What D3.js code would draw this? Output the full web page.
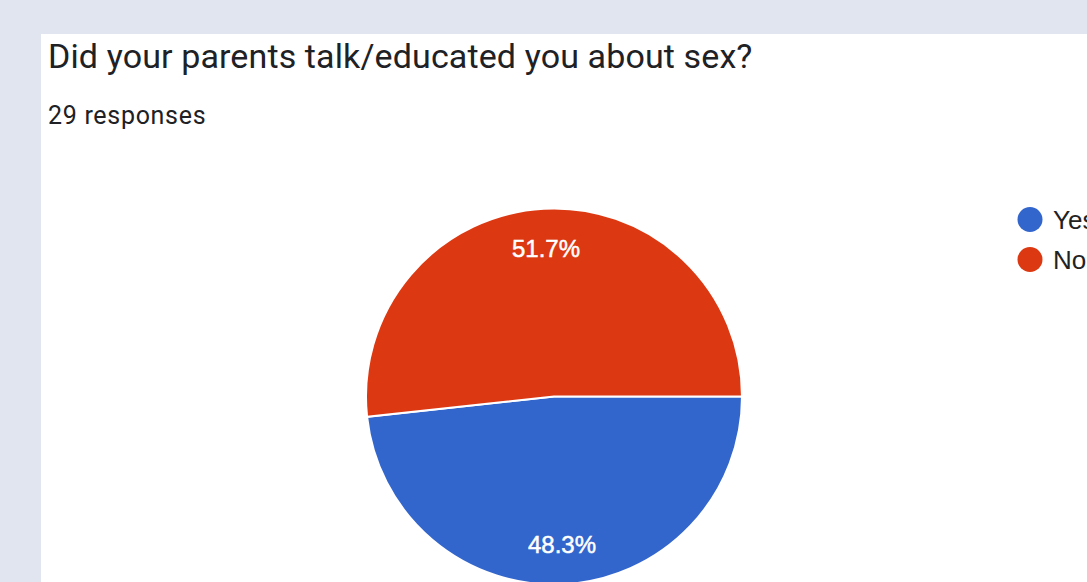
<!DOCTYPE html>
<html><head><meta charset="utf-8">
<script src="https://cdn.jsdelivr.net/npm/d3@7"></script>
<style>
html,body{margin:0;padding:0;background:#e1e5ef;overflow:hidden;}
svg{display:block;}
</style></head>
<body>
<svg id="chart" width="1087" height="582"></svg>
<script>
const categories = ["Yes", "No"];
const counts = [14, 15];
const percentLabels = ["48.3%", "51.7%"];
const colors = ["#3366cc", "#dc3912"];
const title = "Did your parents talk/educated you about sex?";
const subtitle = "29 responses";

const svg = d3.select("#chart");
svg.append("rect").attr("x",41).attr("y",34).attr("width",1100).attr("height",600).attr("fill","#ffffff");

svg.append("text").attr("x",48).attr("y",68)
  .attr("font-family","Roboto, 'Noto Sans', sans-serif").attr("font-size",34)
  .attr("letter-spacing","0.12")
  .attr("fill","#202124").text(title);
svg.append("text").attr("x",48).attr("y",124)
  .attr("font-family","Roboto, 'Noto Sans', sans-serif").attr("font-size",25)
  .attr("letter-spacing","0.7").attr("fill","#202124").text(subtitle);

const cx = 554, cy = 396.5, r = 188;
const data = categories.map((c,i)=>({cat:c, value:counts[i], label:percentLabels[i], color:colors[i]}));
const pie = d3.pie().value(d=>d.value).sort(null).startAngle(Math.PI/2).endAngle(Math.PI/2 + 2*Math.PI);
const arcs = pie(data);
const arc = d3.arc().innerRadius(0).outerRadius(r);
const labelArc = d3.arc().innerRadius(148).outerRadius(148);
const g = svg.append("g").attr("transform",`translate(${cx},${cy})`);
g.selectAll("path").data(arcs).join("path")
  .attr("d",arc).attr("fill",d=>d.data.color)
  .attr("stroke","#ffffff").attr("stroke-width",2);
g.selectAll("text").data(arcs).join("text")
  .attr("transform",d=>`translate(${labelArc.centroid(d)})`)
  .attr("text-anchor","middle").attr("dy","0.36em")
  .attr("font-family","'Liberation Sans', Arial, sans-serif").attr("font-size",24)
  .attr("stroke","#ffffff").attr("stroke-width",0.5)
  .attr("fill","#ffffff").text(d=>d.data.label);

const legend = svg.append("g");
const ly = d3.scaleBand().domain(categories).range([199.5,279.5]);
const lg = legend.selectAll("g").data(data).join("g")
  .attr("transform",d=>`translate(1030,${ly(d.cat)+ly.bandwidth()/2})`);
lg.append("circle").attr("r",12.5).attr("fill",d=>d.color);
lg.append("text").attr("x",23).attr("dy","0.36em")
  .attr("font-family","'Liberation Sans', Arial, sans-serif").attr("font-size",26)
  .attr("fill","#222222").text(d=>d.cat);
</script>
</body></html>
